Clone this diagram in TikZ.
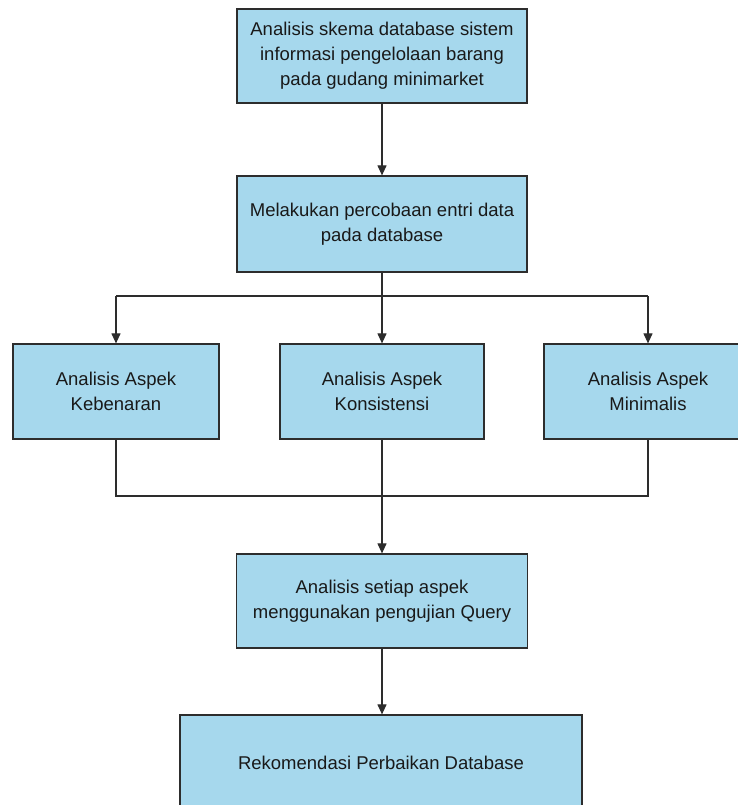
\documentclass[tikz,border=0pt]{standalone}
\usepackage{fontspec}
\setmainfont{Liberation Sans}
\usetikzlibrary{arrows.meta}
\definecolor{boxblue}{RGB}{166,216,237}
\definecolor{boxline}{RGB}{45,45,45}
\tikzset{
  stepbox/.style={draw=boxline, line width=1.2pt, fill=boxblue, align=center,
    inner sep=0pt, text=black!90, font=\fontsize{18.5}{25}\selectfont},
  conn/.style={draw=boxline, line width=1.1pt},
  arr/.style={conn, -{Triangle[length=10pt,width=9pt]}}
}

\begin{document}
\begin{tikzpicture}[x=1pt,y=-1pt]
\useasboundingbox (0,0) rectangle (738,805);
\clip (0,0) rectangle (738,805);

\node[stepbox, minimum width=290pt, minimum height=94pt] (A1) at (382,56)
  {Analisis skema database sistem\\informasi pengelolaan barang\\pada gudang minimarket};
\node[stepbox, minimum width=290pt, minimum height=96pt] (A2) at (382,224)
  {Melakukan percobaan entri data\\pada database};
\node[stepbox, minimum width=206pt, minimum height=95pt] (K1) at (116,391.5)
  {Analisis Aspek\\Kebenaran};
\node[stepbox, minimum width=204pt, minimum height=95pt] (K2) at (382,391.5)
  {Analisis Aspek\\Konsistensi};
\node[stepbox, minimum width=208pt, minimum height=95pt] (K3) at (648,391.5)
  {Analisis Aspek\\Minimalis};
\node[stepbox, minimum width=291pt, minimum height=94pt] (A3) at (382,601)
  {Analisis setiap aspek\\menggunakan pengujian Query};
\node[stepbox, minimum width=402pt, minimum height=96pt] (A4) at (381,763)
  {Rekomendasi Perbaikan Database};

\coordinate (S) at (382,296);
\coordinate (SL) at (116,296);
\coordinate (SR) at (648,296);
\coordinate (J) at (382,496);
\coordinate (JL) at (116,496);
\coordinate (JR) at (648,496);

\draw[arr] (A1) -- (A2);
\draw[conn] (A2) -- (S);
\draw[conn] (SL) -- (SR);
\draw[arr] (SL) -- (K1);
\draw[arr] (S) -- (K2);
\draw[arr] (SR) -- (K3);
\draw[conn] (K1) -- (JL) -- (JR) -- (K3);
\draw[conn] (K2) -- (J);
\draw[arr] (J) -- (A3);
\draw[arr] (A3) -- (A3.south |- A4.north);
\end{tikzpicture}
\end{document}
